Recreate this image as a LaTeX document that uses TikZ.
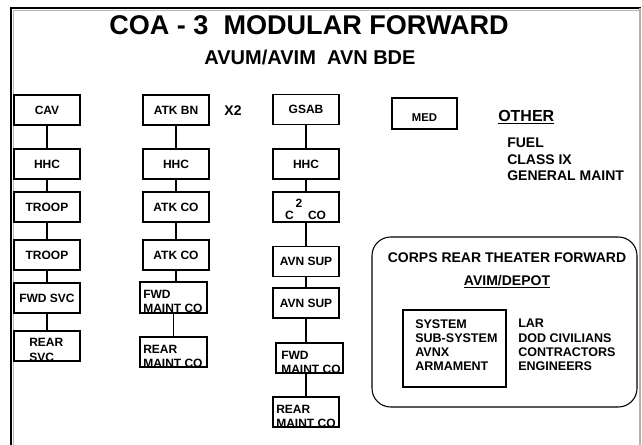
\documentclass[tikz,border=0pt]{standalone}
\usepackage{fontspec}
\setmainfont{Liberation Sans}
\newcommand\lblfont{\fontsize{9}{10.5}\selectfont\bfseries}
\newcommand\medfont{\fontsize{8.5}{10}\selectfont\bfseries}
\newcommand\titlefont{\fontsize{20.3}{24}\selectfont\bfseries}
\newcommand\subtitlefont{\fontsize{15}{18}\selectfont\bfseries}
\newcommand\headfont{\fontsize{10.5}{12.5}\selectfont\bfseries}
\newcommand\listfont{\fontsize{9.4}{10.7}\selectfont\bfseries}
\begin{document}
\begin{tikzpicture}[x=0.75pt,y=-0.75pt,
  box/.style={draw, line width=0.8pt, minimum width=49.5pt, minimum height=22.5pt, inner sep=0pt, font=\lblfont},
  conn/.style={line width=0.8pt},
  lbl/.style={inner sep=0pt, font=\lblfont},
  clbl/.style={inner sep=0pt, font=\lblfont, anchor=base west}
  ]
\useasboundingbox (0,0) rectangle (642,445);
\fill[white] (0,0) rectangle (642,445);
% frame
\draw[gray!55, line width=0.6pt] (13,445) -- (13,10) -- (640,10);
\draw[line width=1.4pt] (11,445) -- (11,8) -- (641,8);
\draw[gray!60, line width=0.8pt] (640,8) -- (640,445);

% titles
\node[inner sep=0pt, font=\titlefont] (title) at (309,25) {COA - 3\ \ MODULAR FORWARD};
\node[inner sep=0pt, font=\subtitlefont] (subtitle) at (310,57) {AVUM/AVIM\ \ AVN BDE};

% CAV column
\node[box] (cav) at (47,110) {CAV};
\node[box] (hhca) at (47,164) {HHC};
\node[box] (tra) at (47,207) {TROOP};
\node[box] (trb) at (47,255) {TROOP};
\node[box] (fsvc) at (47,298) {FWD SVC};
\node[box] (rsvc) at (47,346) {};
\begin{scope}
\clip (rsvc.south west) rectangle (rsvc.north east);
\node[clbl] (rsvct1) at (29,346.5) {REAR};
\node[clbl] (rsvct2) at (29,361.5) {SVC};
\end{scope}
\draw[line width=0.8pt] (rsvc.south west) rectangle (rsvc.north east);

\draw[conn] (cav.south) -- (cav.south |- hhca.north);
\draw[conn] (hhca.south) -- (hhca.south |- tra.north);
\draw[conn] (tra.south) -- (tra.south |- trb.north);
\draw[conn] (trb.south) -- (trb.south |- fsvc.north);
\draw[conn] (fsvc.south) -- (fsvc.south |- rsvc.north);

% ATK column
\node[box] (atk) at (176,110) {ATK BN};
\node[inner sep=0pt, font=\fontsize{10.5}{12}\selectfont\bfseries] (x2) at (233,111) {X2};
\node[box] (hhcb) at (176,164) {HHC};
\node[box] (atka) at (176,207) {ATK CO};
\node[box] (atkb) at (176,255) {ATK CO};
\node[box] (fmca) at (173.5,297.5) {};
\begin{scope}
\clip (fmca.south west) rectangle (fmca.north east);
\node[clbl] (fmcat1) at (143,298) {FWD};
\node[clbl] (fmcat2) at (143,312.5) {MAINT CO};
\end{scope}
\draw[line width=0.8pt] (fmca.south west) rectangle (fmca.north east);
\node[box] (rmca) at (173.5,352) {};
\begin{scope}
\clip (rmca.south west) rectangle (rmca.north east);
\node[clbl] (rmcat1) at (143,353) {REAR};
\node[clbl] (rmcat2) at (143,367.5) {MAINT CO};
\end{scope}
\draw[line width=0.8pt] (rmca.south west) rectangle (rmca.north east);

\draw[conn] (atk.south) -- (atk.south |- hhcb.north);
\draw[conn] (hhcb.south) -- (hhcb.south |- atka.north);
\draw[conn] (atka.south) -- (atka.south |- atkb.north);
\draw[conn] (atkb.south) -- (atkb.south |- fmca.north);
\draw[conn] (fmca.south) -- (fmca.south |- rmca.north);

% GSAB column
\node[box] (gsab) at (306,109.5) {GSAB};
\node[box] (hhcc) at (306,164) {HHC};
\node[box] (c2) at (306,207) {};
\node[lbl] (c2sup) at (299,203) {2};
\node[lbl] (c2c) at (289.5,215.5) {C};
\node[lbl] (c2co) at (317,215.5) {CO};
\node[box] (avna) at (306,261.5) {AVN SUP};
\node[box] (avnb) at (306,303) {AVN SUP};
\node[box] (fmcb) at (309.5,358) {};
\begin{scope}
\clip (fmcb.south west) rectangle (fmcb.north east);
\node[clbl] (fmcbt1) at (281,359) {FWD};
\node[clbl] (fmcbt2) at (281,373.5) {MAINT CO};
\end{scope}
\draw[line width=0.8pt] (fmcb.south west) rectangle (fmcb.north east);
\node[box] (rmcb) at (306,412) {};
\begin{scope}
\clip (rmcb.south west) rectangle (rmcb.north east);
\node[clbl] (rmcbt1) at (276,413) {REAR};
\node[clbl] (rmcbt2) at (276,427.5) {MAINT CO};
\end{scope}
\draw[line width=0.8pt] (rmcb.south west) rectangle (rmcb.north east);

\draw[conn] (gsab.south) -- (gsab.south |- hhcc.north);
\draw[conn] (hhcc.south) -- (hhcc.south |- c2.north);
\draw[conn] (c2.south) -- (c2.south |- avna.north);
\draw[conn] (avna.south) -- (avna.south |- avnb.north);
\draw[conn] (avnb.south) -- (avnb.south |- fmcb.north);
\draw[conn] (fmcb.south -| rmcb.north) -- (rmcb.north);

% MED
\node[box, minimum width=48.75pt, minimum height=23.25pt] (med) at (424.5,113.5) {};
\node[inner sep=0pt, font=\medfont] (medt) at (424.5,118) {MED};

% OTHER
\node[inner sep=0pt, font=\fontsize{12}{14}\selectfont\bfseries, anchor=west] (other) at (498,117) {\underline{OTHER}};
\node[inner sep=0pt, font=\headfont, anchor=west] (fuel) at (507,143) {FUEL};
\node[inner sep=0pt, font=\headfont, anchor=west] (cl9) at (507,159.5) {CLASS IX};
\node[inner sep=0pt, font=\headfont, anchor=west] (gm) at (507,176) {GENERAL MAINT};

% Corps rear
\draw[line width=0.8pt, rounded corners=14pt] (372,237) rectangle (637,407);
\node[inner sep=0pt, font=\headfont] (corps) at (507,258) {CORPS REAR THEATER FORWARD};
\node[inner sep=0pt, font=\headfont] (avim) at (507,282) {\underline{AVIM/DEPOT}};
\node[draw, line width=0.8pt, minimum width=77.25pt, minimum height=57.75pt, inner sep=0pt] (inner) at (454.5,348.5) {};
\node[inner sep=0pt, font=\listfont, anchor=north west, align=left] (sys) at (415,319) {SYSTEM\\SUB-SYSTEM\\AVNX\\ARMAMENT};
\node[inner sep=0pt, font=\listfont, anchor=north west, align=left] (lar) at (518,319) {LAR\\DOD CIVILIANS\\CONTRACTORS\\ENGINEERS};
\end{tikzpicture}
\end{document}
